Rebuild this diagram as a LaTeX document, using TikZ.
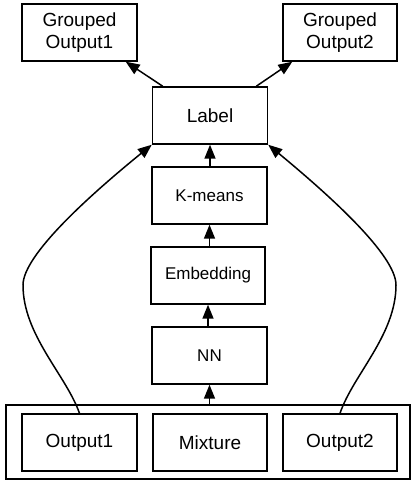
\documentclass[tikz,border=0pt]{standalone}
\usepackage{fontspec}
\setmainfont{Liberation Sans}
\usetikzlibrary{arrows.meta}
\begin{document}
\begin{tikzpicture}[x=1pt,y=-1pt,
  box/.style={draw,line width=1.4pt,minimum width=115pt,minimum height=57pt,inner sep=0pt,align=center,font=\fontsize{19}{22}\selectfont},
  sbox/.style={box,font=\fontsize{17}{20}\selectfont},
  arr/.style={line width=1.5pt,-{Triangle[length=14pt,width=11pt]}}]
\useasboundingbox (0,0) rectangle (415,484);
\node[draw,line width=1.4pt,minimum width=404pt,minimum height=74pt,inner sep=0pt] (grp) at (208,442) {};
\node[box] (go1) at (79.5,32.5) {Grouped\\Output1};
\node[box,minimum width=114pt] (go2) at (340,32.5) {Grouped\\Output2};
\node[box] (lab) at (210,115.5) {Label};
\node[sbox] (km) at (209.5,195.5) {K-means};
\node[sbox,minimum width=114pt] (emb) at (208,275.5) {Embedding};
\node[sbox] (nn) at (209.5,355.5) {NN};
\node[box] (o1) at (79.5,442.5) {Output1};
\node[box,minimum width=114pt] (mix) at (210,442.5) {Mixture};
\node[box,minimum width=114pt] (o2) at (340,442.5) {Output2};
\draw[arr] ([xshift=11pt]lab.north west) -- ([xshift=-12pt]go1.south east);
\draw[arr] ([xshift=-12pt]lab.north east) -- ([xshift=10pt]go2.south west);
\draw[arr] (km.north -| lab.south) -- (lab.south);
\draw[arr] (emb.north -| km.south) -- (km.south);
\draw[arr] (nn.north -| emb.south) -- (emb.south);
\draw[arr] (grp.north -| nn.south) -- (nn.south);
\draw[arr] (o1.north) .. controls (66,375) and (23,335) .. (23,285) .. controls (23,255) and (90,195) .. (lab.south west);
\draw[arr] (o2.north) .. controls (353,375) and (396,335) .. (396,285) .. controls (396,255) and (329,195) .. (lab.south east);
\end{tikzpicture}
\end{document}
